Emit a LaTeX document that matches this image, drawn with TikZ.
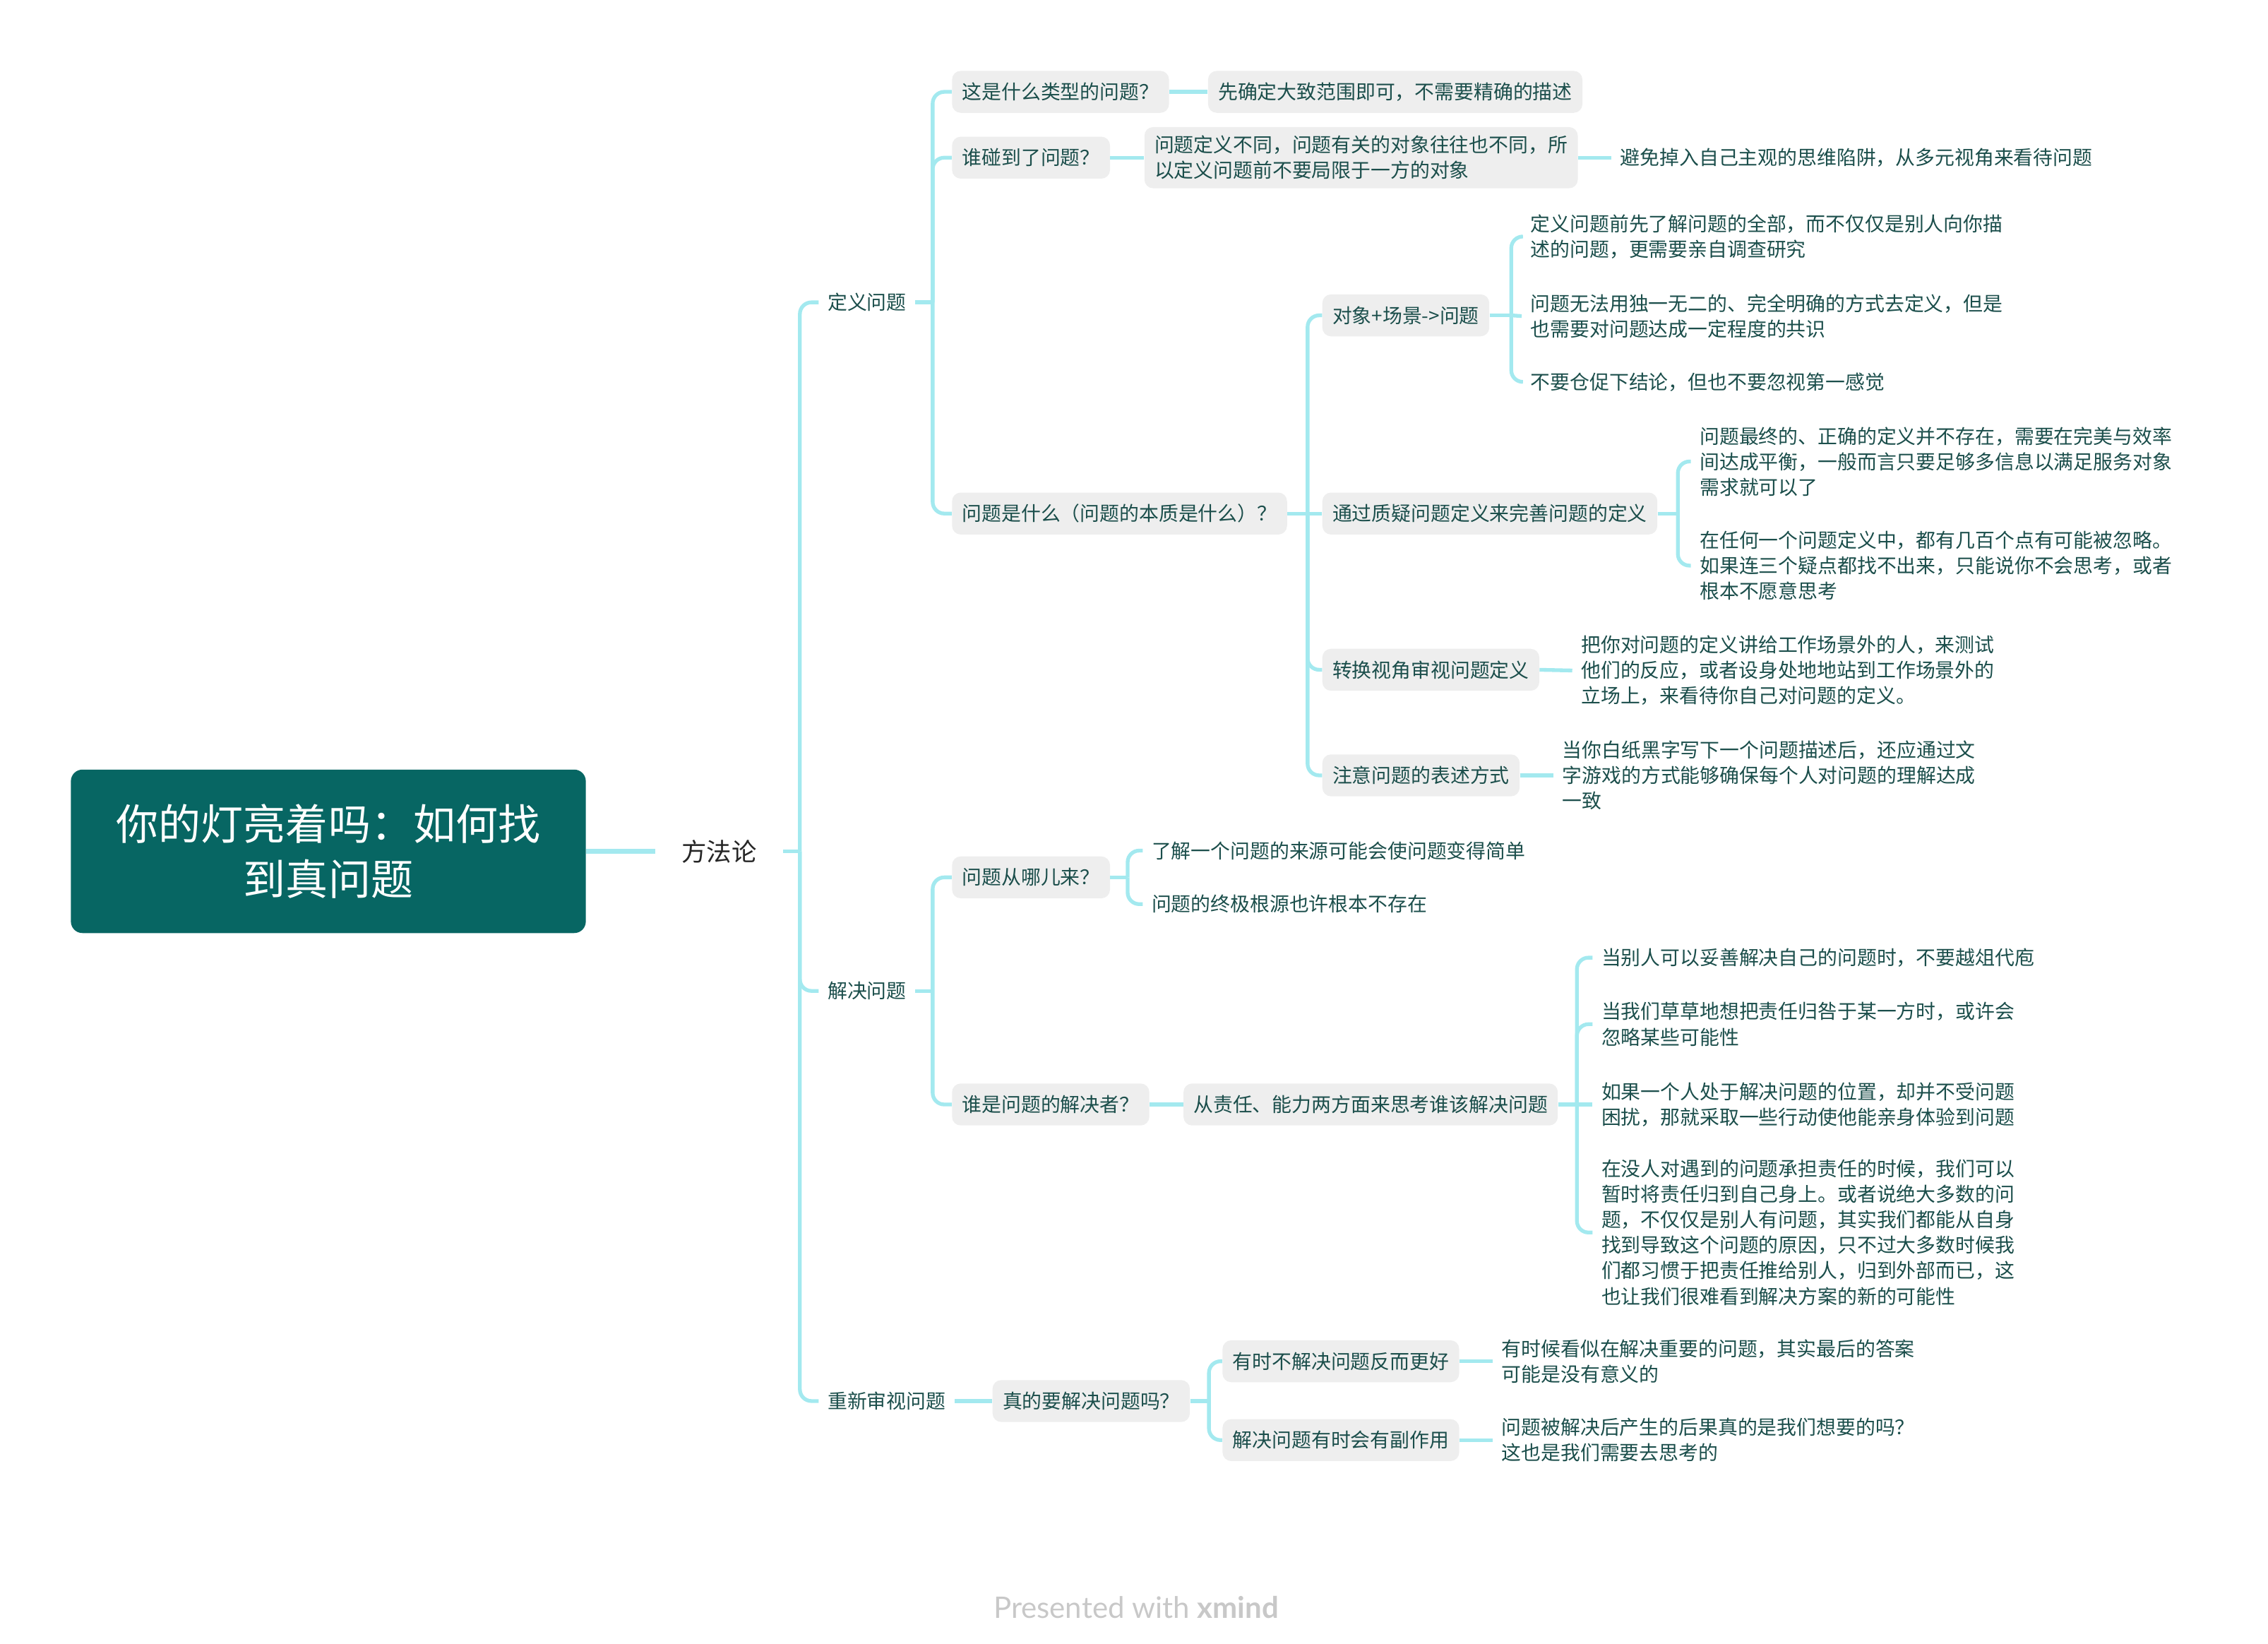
\documentclass[tikz,border=0pt]{standalone}
\usepackage{fontspec}
\setmainfont{Noto Sans CJK SC}
\newfontfamily\footfam{Lato}
\usetikzlibrary{calc}
\definecolor{lineC}{HTML}{A3E9EF}
\definecolor{boxC}{HTML}{EEEEEE}
\definecolor{txtC}{HTML}{1B4E4B}
\definecolor{rootC}{HTML}{076663}
\definecolor{footC}{HTML}{C8C8C8}
\newcommand\myfont{\fontsize{13.6pt}{17.6pt}\selectfont}
\tikzset{
  conn/.style={draw=lineC, line width=2.6pt, rounded corners=8pt},
  rootline/.style={draw=lineC, line width=3.2pt},
  tbox/.style={fill=boxC, rounded corners=6pt, inner xsep=7pt, inner ysep=6pt, minimum height=29pt, anchor=west, align=left, text=txtC, font=\myfont},
  leaf/.style={inner xsep=6pt, inner ysep=3pt, anchor=west, align=left, text=txtC, font=\myfont},
  rootbox/.style={fill=rootC, rounded corners=8pt, minimum width=356pt, minimum height=113pt, text=white, align=center, font=\fontsize{29.3pt}{38pt}\selectfont},
}
\begin{document}
\begin{tikzpicture}[x=1pt,y=-1pt]
\useasboundingbox (0,0) rectangle (1568,1136.4);
% root
\node[rootbox] (root) at (227,588.5) {你的灯亮着吗：如何找\\到真问题};
\node[anchor=west, inner xsep=18pt, inner ysep=3pt, font=\fontsize{17.3pt}{20pt}\selectfont, text=black!85] (ffl) at (453,588.5) {方法论};
\coordinate (s0) at (553,588.5);
% level 1
\node[leaf] (dy) at (566,209) {定义问题};
\node[leaf] (jj) at (566,685) {解决问题};
\node[leaf] (cx) at (566,968.5) {重新审视问题};
% define
\node[tbox] (q1) at (658,63.5) {这是什么类型的问题？};
\node[tbox] (a1) at (835,63.5) {先确定大致范围即可，不需要精确的描述};
\node[tbox] (q2) at (658,109) {谁碰到了问题？};
\node[tbox] (a2) at (791,109) {问题定义不同，问题有关的对象往往也不同，所\\以定义问题前不要局限于一方的对象};
\node[leaf] (a2b) at (1114,109) {避免掉入自己主观的思维陷阱，从多元视角来看待问题};
\node[tbox] (q3) at (658,355) {问题是什么（问题的本质是什么）？};
\node[tbox] (b1) at (914,218) {对象+场景->问题};
\node[leaf] (c1) at (1052,163.5) {定义问题前先了解问题的全部，而不仅仅是别人向你描\\述的问题，更需要亲自调查研究};
\node[leaf] (c2) at (1052,218.5) {问题无法用独一无二的、完全明确的方式去定义，但是\\也需要对问题达成一定程度的共识};
\node[leaf] (c3) at (1052,264) {不要仓促下结论，但也不要忽视第一感觉};
\node[tbox] (b2) at (914,355) {通过质疑问题定义来完善问题的定义};
\node[leaf] (d1) at (1169,319) {问题最终的、正确的定义并不存在，需要在完美与效率\\间达成平衡，一般而言只要足够多信息以满足服务对象\\需求就可以了};
\node[leaf] (d2) at (1169,391) {在任何一个问题定义中，都有几百个点有可能被忽略。\\如果连三个疑点都找不出来，只能说你不会思考，或者\\根本不愿意思考};
\node[tbox] (b3) at (914,463) {转换视角审视问题定义};
\node[leaf] (e1) at (1087,463.5) {把你对问题的定义讲给工作场景外的人，来测试\\他们的反应，或者设身处地地站到工作场景外的\\立场上，来看待你自己对问题的定义。};
\node[tbox] (b4) at (914,536) {注意问题的表述方式};
\node[leaf] (f1) at (1074,536) {当你白纸黑字写下一个问题描述后，还应通过文\\字游戏的方式能够确保每个人对问题的理解达成\\一致};
% solve
\node[tbox] (g1) at (658,606.5) {问题从哪儿来？};
\node[leaf] (h1) at (790,588) {了解一个问题的来源可能会使问题变得简单};
\node[leaf] (h2) at (790,625) {问题的终极根源也许根本不存在};
\node[tbox] (g2) at (658,763.5) {谁是问题的解决者？};
\node[tbox] (g3) at (818,763.5) {从责任、能力两方面来思考谁该解决问题};
\node[leaf] (k1) at (1101,662) {当别人可以妥善解决自己的问题时，不要越俎代庖};
\node[leaf] (k2) at (1101,708) {当我们草草地想把责任归咎于某一方时，或许会\\忽略某些可能性};
\node[leaf] (k3) at (1101,763.5) {如果一个人处于解决问题的位置，却并不受问题\\困扰，那就采取一些行动使他能亲身体验到问题};
\node[leaf] (k4) at (1101,852) {在没人对遇到的问题承担责任的时候，我们可以\\暂时将责任归到自己身上。或者说绝大多数的问\\题，不仅仅是别人有问题，其实我们都能从自身\\找到导致这个问题的原因，只不过大多数时候我\\们都习惯于把责任推给别人，归到外部而已，这\\也让我们很难看到解决方案的新的可能性};
% review
\node[tbox] (m1) at (686,968.5) {真的要解决问题吗？};
\node[tbox] (n1) at (845,941) {有时不解决问题反而更好};
\node[leaf] (o1) at (1032,941) {有时候看似在解决重要的问题，其实最后的答案\\可能是没有意义的};
\node[tbox] (n2) at (845,995.5) {解决问题有时会有副作用};
\node[leaf] (o2) at (1032,995.5) {问题被解决后产生的后果真的是我们想要的吗？\\这也是我们需要去思考的};
% footer
\node[font=\footfam\fontsize{20.5pt}{24pt}\selectfont, text=footC] (ft) at (785.5,1111) {Presented with \textbf{xmind}};
% spine coordinates
\coordinate (s1) at ([xshift=12pt]dy.east);
\coordinate (s3) at ([xshift=14pt]q3.east);
\coordinate (sb1) at ([xshift=15pt]b1.east);
\coordinate (sb2) at ([xshift=14pt]b2.east);
\coordinate (s2) at ([xshift=12pt]jj.east);
\coordinate (sg1) at ([xshift=12pt]g1.east);
\coordinate (sg3) at ([xshift=13pt]g3.east);
\coordinate (sm1) at ([xshift=13pt]m1.east);
% connectors
\draw[rootline] (root.east) -- (ffl.west);
\draw[conn] (ffl.east) -- (s0);
\draw[conn] (s0) |- (dy.west);
\draw[conn] (s0) |- (jj.west);
\draw[conn] (s0) |- (cx.west);
\draw[conn] (dy.east) -- (s1);
\draw[conn] (s1) |- (q1.west);
\draw[conn] (s1) |- (q2.west);
\draw[conn] (s1) |- (q3.west);
\draw[conn] (q1.east) -- (a1.west);
\draw[conn] (q2.east) -- (a2.west);
\draw[conn] (a2.east) -- (a2b.west);
\draw[conn] (q3.east) -- (s3);
\draw[conn] (s3) |- (b1.west);
\draw[conn] (s3) -- (b2.west);
\draw[conn] (s3) |- (b3.west);
\draw[conn] (s3) |- (b4.west);
\draw[conn] (b1.east) -- (sb1);
\draw[conn] (sb1) |- (c1.west);
\draw[conn] (sb1) -- (c2.west);
\draw[conn] (sb1) |- (c3.west);
\draw[conn] (b2.east) -- (sb2);
\draw[conn] (sb2) |- (d1.west);
\draw[conn] (sb2) |- (d2.west);
\draw[conn] (b3.east) -- (e1.west);
\draw[conn] (b4.east) -- (f1.west);
\draw[conn] (jj.east) -- (s2);
\draw[conn] (s2) |- (g1.west);
\draw[conn] (s2) |- (g2.west);
\draw[conn] (g1.east) -- (sg1);
\draw[conn] (sg1) |- (h1.west);
\draw[conn] (sg1) |- (h2.west);
\draw[conn] (g2.east) -- (g3.west);
\draw[conn] (g3.east) -- (sg3);
\draw[conn] (sg3) |- (k1.west);
\draw[conn] (sg3) |- (k2.west);
\draw[conn] (sg3) -- (k3.west);
\draw[conn] (sg3) |- (k4.west);
\draw[conn] (cx.east) -- (m1.west);
\draw[conn] (m1.east) -- (sm1);
\draw[conn] (sm1) |- (n1.west);
\draw[conn] (sm1) |- (n2.west);
\draw[conn] (n1.east) -- (o1.west);
\draw[conn] (n2.east) -- (o2.west);
\end{tikzpicture}
\end{document}
